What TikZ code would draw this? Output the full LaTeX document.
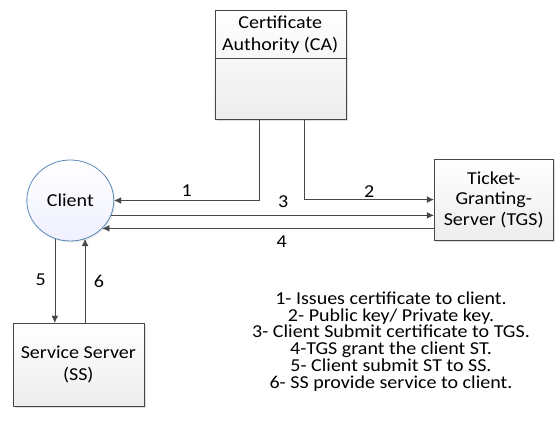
\documentclass[tikz,border=0pt]{standalone}
\usepackage{fontspec}
\setmainfont{Carlito}[FakeStretch=1.1]
\usepackage{tikz}
\usetikzlibrary{arrows.meta,shapes.geometric,shadows}
\definecolor{edgegray}{HTML}{474747}
\definecolor{clientblue}{HTML}{5B87B8}
\tikzstyle{block} = [rectangle, draw=edgegray, top color=white, bottom color=black!7, align=center, font=\fontsize{18.2}{20.5}\selectfont, drop shadow={shadow xshift=2pt, shadow yshift=-2pt, opacity=0.25}]
\tikzstyle{party} = [ellipse, draw=clientblue, thick, top color=white, bottom color=blue!6, minimum width=87pt, minimum height=81pt, font=\fontsize{18.2}{20}\selectfont, drop shadow={shadow xshift=1.5pt, shadow yshift=-1.5pt, opacity=0.15}]
\tikzstyle{line} = [draw, thin, color=edgegray, -{Latex[length=7pt,width=6.5pt]}]
\tikzstyle{step label} = [font=\fontsize{18.2}{20}\selectfont]

\begin{document}
\begin{tikzpicture}[x=1pt, y=-1pt]
				\useasboundingbox (0,0) rectangle (555,427);
				% Place nodes
				\node [block, minimum width=131pt, minimum height=109pt] (ca) at (280.2,64.5) {};
				\node [align=center, font=\fontsize{18.2}{22}\selectfont] (catitle) at (280.2,35) {Certificate\\Authority (CA)};
				\draw [edgegray] (ca.west |- 0,58) -- (ca.east |- 0,58);
				\node [party] (client) at (70.3,200.5) {Client};
				\node [block, minimum width=119.3pt, minimum height=81pt] (tgs) at (493.7,199.6) {Ticket-\\Granting-\\Server (TGS)};
				\node [block, minimum width=131pt, minimum height=83pt, font=\fontsize{18.2}{22}\selectfont] (ss) at (78.3,364.5) {Service Server\\(SS)};
				% Draw edges
				\path [line] ([xshift=-21pt]ca.south) |- (client);
				\path [line] ([xshift=24pt]ca.south) |- (tgs);
				\path [line] (client.-20) -- (client.-20 -| tgs.west);
				\path [line] (client.-41 -| tgs.west) -- (client.-41);
				\path [line] (client.-112) -- (client.-112 |- ss.north);
				\path [line] (client.-69 |- ss.north) -- (client.-69);
				% Step numbers
				\node [step label] (n1) at (186.7,190.5) {1};
				\node [step label] (n2) at (369.3,191.5) {2};
				\node [step label] (n3) at (283.3,201.5) {3};
				\node [step label] (n4) at (281.7,241.5) {4};
				\node [step label] (n5) at (40.7,280) {5};
				\node [step label] (n6) at (99,281.5) {6};
				% Legend
				\node [align=center, font=\fontsize{18.2}{16.7}\selectfont] (legend) at (391,341.5) {1- Issues certificate to client.\\2- Public key/ Private key.\\3- Client Submit certificate to TGS.\\4-TGS grant the client ST.\\5- Client submit ST to SS.\\6- SS provide service to client.};
			\end{tikzpicture}
\end{document}
